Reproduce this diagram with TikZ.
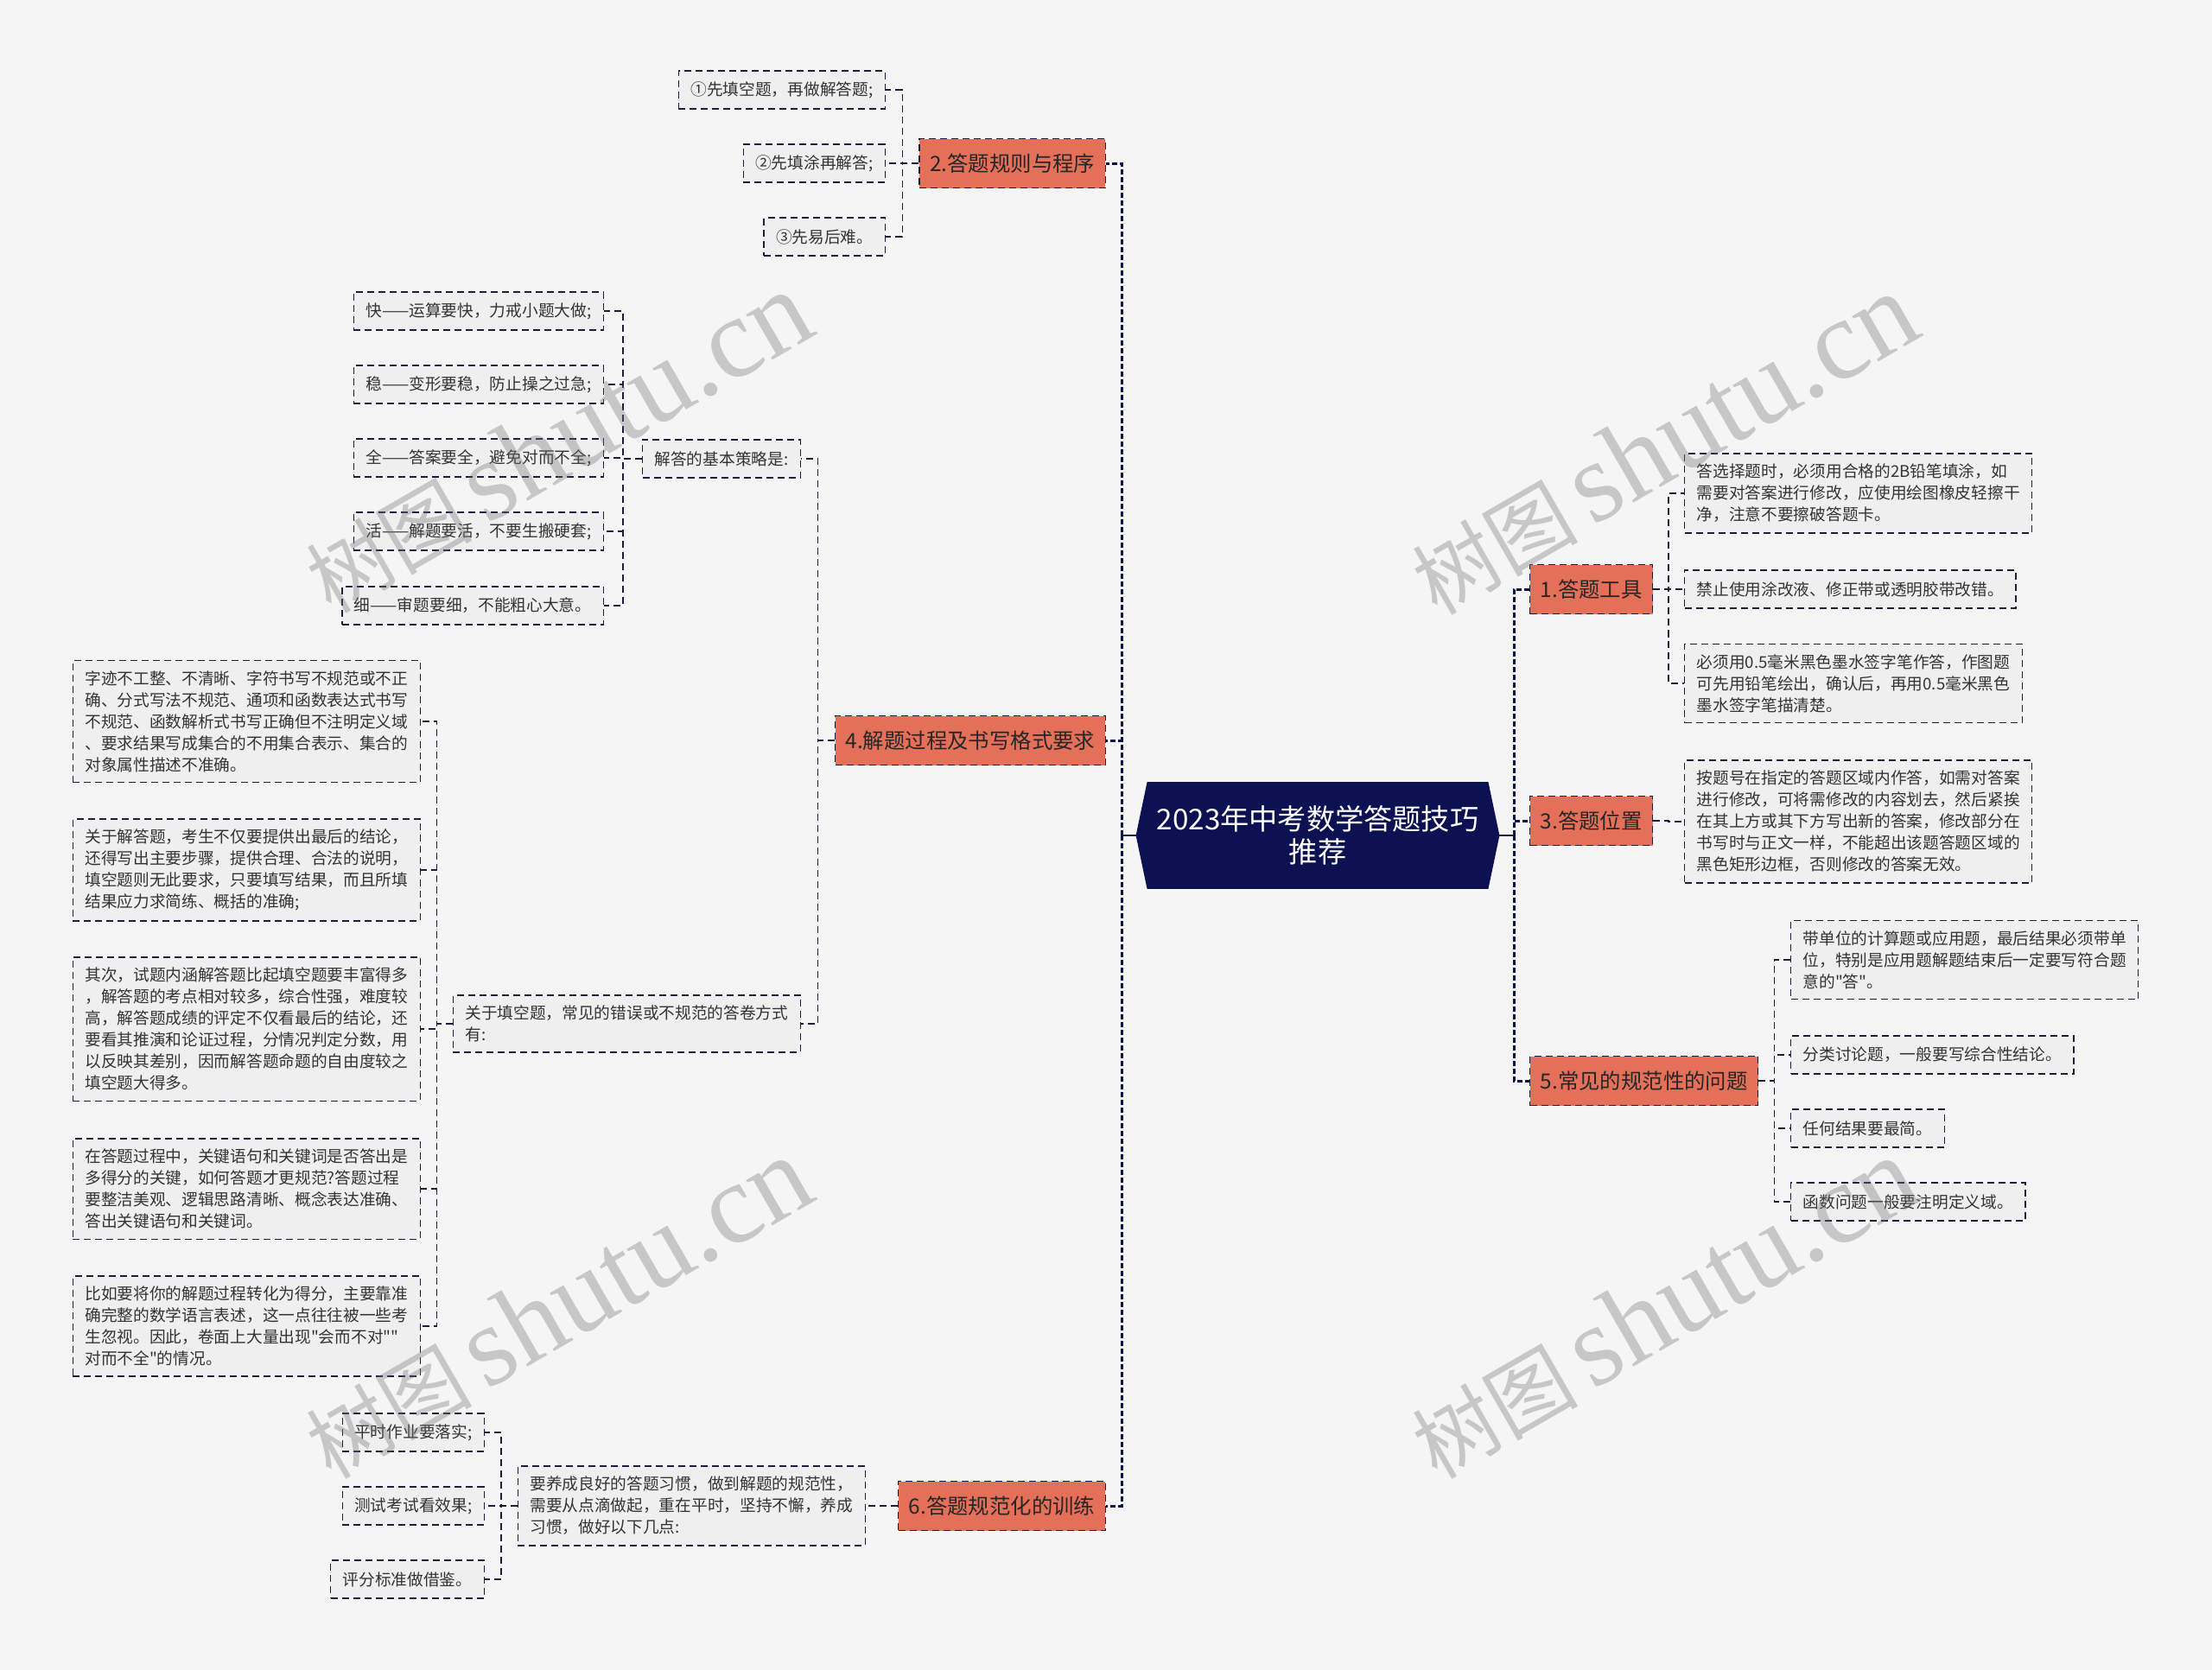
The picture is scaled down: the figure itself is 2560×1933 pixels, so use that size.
\documentclass[tikz,border=0pt]{standalone}
\usepackage{fontspec}
\setmainfont{Noto Sans CJK SC}
\newfontfamily\cjk{Noto Sans CJK SC}
\newfontfamily\wmfont{Liberation Serif}
\usepackage{tikz}
\usetikzlibrary{positioning, calc, backgrounds}

\definecolor{pagebg}{HTML}{F5F5F5}
\definecolor{leaffill}{HTML}{EFEFEF}
\definecolor{mainred}{HTML}{E4705A}
\definecolor{rootblue}{HTML}{0C1152}
\definecolor{linedark}{HTML}{1E1E3C}
\definecolor{txtdark}{HTML}{333333}

\begin{document}
\begin{tikzpicture}[x=0.5pt, y=-0.5pt]
	% Styles
	\tikzset{
		leaf/.style={draw=linedark, line width=0.7pt, dash pattern=on 4pt off 2.5pt, fill=leaffill, text=txtdark, font=\cjk\fontsize{9.35pt}{12.5pt}\selectfont, align=left, inner xsep=7pt, inner ysep=6pt, minimum height=22pt},
		branch/.style={draw=linedark, line width=0.7pt, dash pattern=on 4pt off 2.5pt, fill=mainred, text=black!85, font=\cjk\fontsize{12.2pt}{14pt}\selectfont, inner xsep=6pt, minimum height=28.5pt},
		rootbox/.style={text=white, font=\cjk\fontsize{16.6pt}{19pt}\selectfont, align=center, minimum width=197pt, minimum height=61.5pt},
		link/.style={draw=linedark, line width=0.7pt, dash pattern=on 4pt off 2.5pt},
		trunk/.style={draw=rootblue, line width=1.5pt, dash pattern=on 3pt off 1.5pt},
		rootlink/.style={draw=rootblue, line width=1pt},
		watermark/.style={rotate=30, text=black!55, text opacity=0.35, inner sep=0pt}
	}

	% Page
	\useasboundingbox (0,0) rectangle (2560,1933);
	\begin{scope}[on background layer]
		\fill[pagebg] (0,0) rectangle (2560,1933);
	\end{scope}

	% Root
	\node[rootbox] (root) at (1525,967) {2023年中考数学答题技巧\\推荐};
	\begin{scope}[on background layer]
		\fill[rootblue] ([xshift=-6.5pt]root.west) -- (root.north west) -- (root.north east) -- ([xshift=6.5pt]root.east) -- (root.south east) -- (root.south west) -- cycle;
	\end{scope}
	\coordinate (rootL) at ([xshift=-6.5pt]root.west);
	\coordinate (rootR) at ([xshift=6.5pt]root.east);
	\coordinate (trunkL) at (1298,967);
	\coordinate (trunkR) at (1752,967);

	% Left branches
	\node[branch, anchor=east] (rule) at (1280,189) {2.答题规则与程序};
	\node[branch, anchor=east] (write) at (1280,857) {4.解题过程及书写格式要求};
	\node[branch, anchor=east] (train) at (1280,1743) {6.答题规范化的训练};

	% Right branches
	\node[branch, anchor=west] (tool) at (1770,682) {1.答题工具};
	\node[branch, anchor=west] (place) at (1770,950) {3.答题位置};
	\node[branch, anchor=west] (norm) at (1770,1251) {5.常见的规范性的问题};

	% 2.
	\node[leaf, anchor=east] (rule1) at (1025,104) {①先填空题，再做解答题;};
	\node[leaf, anchor=east] (rule2) at (1025,189) {②先填涂再解答;};
	\node[leaf, anchor=east] (rule3) at (1025,274) {③先易后难。};

	% 4.
	\node[leaf, anchor=east] (tact) at (927,531) {解答的基本策略是:};
	\node[leaf, anchor=east] (tact1) at (699,360) {快——运算要快，力戒小题大做;};
	\node[leaf, anchor=east] (tact2) at (699,445) {稳——变形要稳，防止操之过急;};
	\node[leaf, anchor=east] (tact3) at (699,530) {全——答案要全，避免对而不全;};
	\node[leaf, anchor=east] (tact4) at (699,615) {活——解题要活，不要生搬硬套;};
	\node[leaf, anchor=east] (tact5) at (699,701) {细——审题要细，不能粗心大意。};
	\node[leaf, anchor=east] (blank) at (927,1185) {关于填空题，常见的错误或不规范的答卷方式\\有:};
	\node[leaf, anchor=east] (blank1) at (487,835) {字迹不工整、不清晰、字符书写不规范或不正\\确、分式写法不规范、通项和函数表达式书写\\不规范、函数解析式书写正确但不注明定义域\\、要求结果写成集合的不用集合表示、集合的\\对象属性描述不准确。};
	\node[leaf, anchor=east] (blank2) at (487,1007) {关于解答题，考生不仅要提供出最后的结论，\\还得写出主要步骤，提供合理、合法的说明，\\填空题则无此要求，只要填写结果，而且所填\\结果应力求简练、概括的准确;};
	\node[leaf, anchor=east] (blank3) at (487,1191) {其次，试题内涵解答题比起填空题要丰富得多\\，解答题的考点相对较多，综合性强，难度较\\高，解答题成绩的评定不仅看最后的结论，还\\要看其推演和论证过程，分情况判定分数，用\\以反映其差别，因而解答题命题的自由度较之\\填空题大得多。};
	\node[leaf, anchor=east] (blank4) at (487,1376) {在答题过程中，关键语句和关键词是否答出是\\多得分的关键，如何答题才更规范?答题过程\\要整洁美观、逻辑思路清晰、概念表达准确、\\答出关键语句和关键词。};
	\node[leaf, anchor=east] (blank5) at (487,1535) {比如要将你的解题过程转化为得分，主要靠准\\确完整的数学语言表述，这一点往往被一些考\\生忽视。因此，卷面上大量出现"会而不对""\\对而不全"的情况。};

	% 6.
	\node[leaf, anchor=east] (habit) at (1002,1743) {要养成良好的答题习惯，做到解题的规范性，\\需要从点滴做起，重在平时，坚持不懈，养成\\习惯，做好以下几点:};
	\node[leaf, anchor=east] (habit1) at (561,1658) {平时作业要落实;};
	\node[leaf, anchor=east] (habit2) at (561,1743) {测试考试看效果;};
	\node[leaf, anchor=east] (habit3) at (561,1828) {评分标准做借鉴。};

	% 1.
	\node[leaf, anchor=west] (tool1) at (1949,571) {答选择题时，必须用合格的2B铅笔填涂，如\\需要对答案进行修改，应使用绘图橡皮轻擦干\\净，注意不要擦破答题卡。};
	\node[leaf, anchor=west] (tool2) at (1949,682) {禁止使用涂改液、修正带或透明胶带改错。};
	\node[leaf, anchor=west] (tool3) at (1949,791) {必须用0.5毫米黑色墨水签字笔作答，作图题\\可先用铅笔绘出，确认后，再用0.5毫米黑色\\墨水签字笔描清楚。};

	% 3.
	\node[leaf, anchor=west] (place1) at (1949,951) {按题号在指定的答题区域内作答，如需对答案\\进行修改，可将需修改的内容划去，然后紧挨\\在其上方或其下方写出新的答案，修改部分在\\书写时与正文一样，不能超出该题答题区域的\\黑色矩形边框，否则修改的答案无效。};

	% 5.
	\node[leaf, anchor=west] (norm1) at (2072,1111) {带单位的计算题或应用题，最后结果必须带单\\位，特别是应用题解题结束后一定要写符合题\\意的"答"。};
	\node[leaf, anchor=west] (norm2) at (2072,1221) {分类讨论题，一般要写综合性结论。};
	\node[leaf, anchor=west] (norm3) at (2072,1306) {任何结果要最简。};
	\node[leaf, anchor=west] (norm4) at (2072,1391) {函数问题一般要注明定义域。};

	% Trunks
	\draw[rootlink] (rootL) -- (trunkL);
	\draw[rootlink] (rootR) -- (trunkR);
	\foreach \b in {rule,write,train}
		\draw[trunk] (trunkL) |- (\b.east);
	\foreach \b in {tool,place,norm}
		\draw[trunk] (trunkR) |- (\b.west);

	% Left links
	\foreach \p/\c in {rule/rule1, rule/rule2, rule/rule3, write/tact, write/blank, tact/tact1, tact/tact2, tact/tact3, tact/tact4, tact/tact5, blank/blank1, blank/blank2, blank/blank3, blank/blank4, blank/blank5, train/habit, habit/habit1, habit/habit2, habit/habit3}
		\draw[link] (\p.west) -| ($(\p.west)!.5!(\c.east)$) |- (\c.east);

	% Right links
	\foreach \p/\c in {tool/tool1, tool/tool2, tool/tool3, place/place1, norm/norm1, norm/norm2, norm/norm3, norm/norm4}
		\draw[link] (\p.east) -| ($(\p.east)!.5!(\c.west)$) |- (\c.west);

	% Watermarks
	\foreach \w/\pos in {wm1/{(645,512)}, wm2/{(1925,514)}, wm3/{(645,1514)}, wm4/{(1925,1514)}}
		\node[watermark] (\w) at \pos {{\cjk\fontsize{48pt}{48pt}\selectfont 树图}\hspace{8pt}{\wmfont\fontsize{66pt}{66pt}\selectfont shutu.cn}};
\end{tikzpicture}
\end{document}
